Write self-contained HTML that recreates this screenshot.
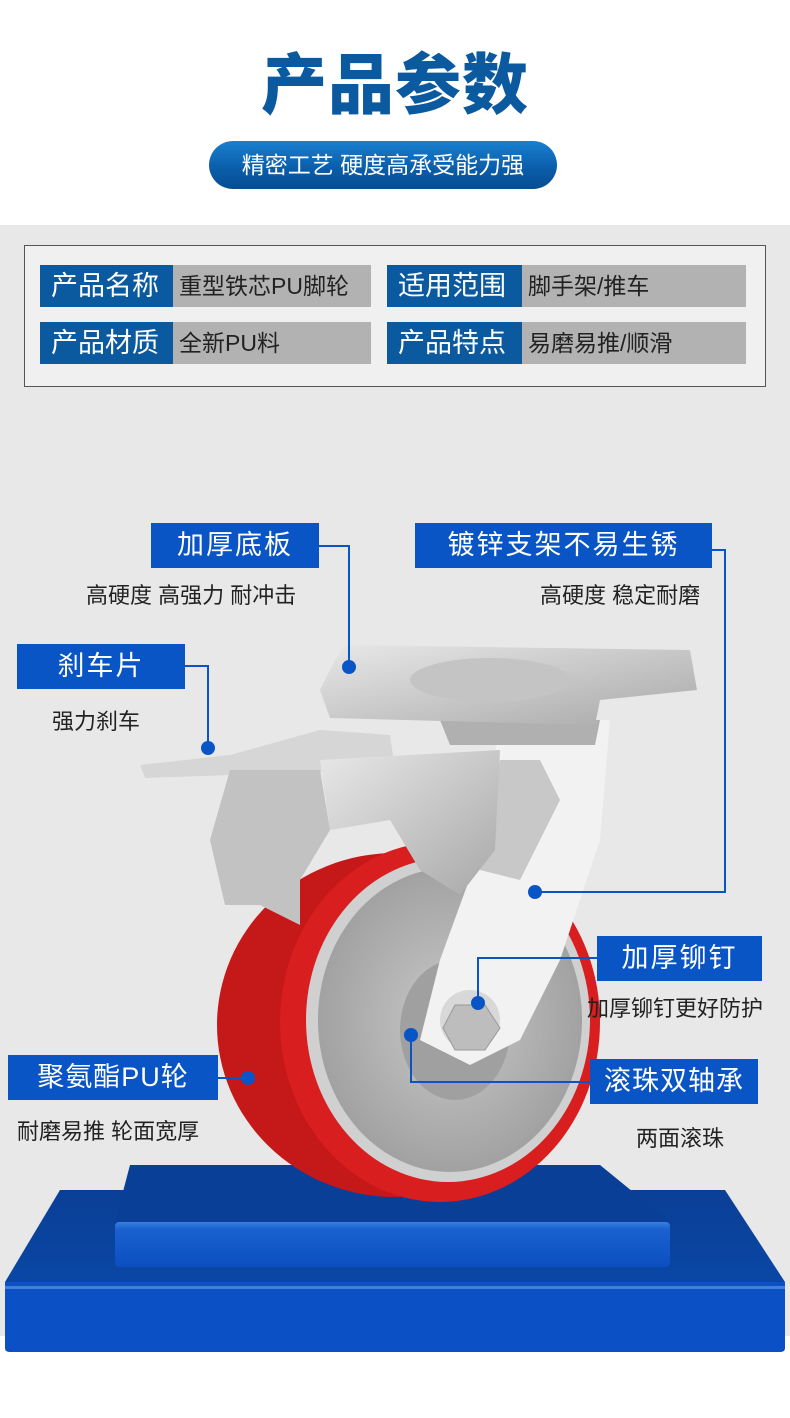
<!DOCTYPE html>
<html><head><meta charset="utf-8"><style>
*{margin:0;padding:0;box-sizing:border-box}
body{width:790px;height:1418px;position:relative;background:#fff;font-family:"Liberation Sans","Noto Sans CJK SC",sans-serif;overflow:hidden}
.a{position:absolute}
.gray{left:0;top:225px;width:790px;height:1111px;background:#e8e8e8}
.title{left:0;width:790px;top:40px;text-align:center;font-size:66px;font-weight:900;color:#0b5aa0;letter-spacing:1px;line-height:90px}
.pill{left:209px;top:141px;width:348px;height:48px;border-radius:24px;background:linear-gradient(#1a7fd0,#0a5ca8 60%,#064d92);color:#fff;font-size:23px;text-align:center;line-height:48px}
.box{left:24px;top:245px;width:742px;height:142px;border:1px solid #555;background:#f0f0f0}
.lab{background:#0b5aa0;color:#fff;font-size:27px;line-height:42px;height:42px;padding-left:11px}
.val{background:#b2b2b2;color:#222;font-size:23px;line-height:42px;height:42px;padding-left:6px}
.cb{background:#0a55c5;color:#fff;font-size:27px;text-align:center;height:45px;line-height:45px;letter-spacing:2px}
.sub{font-size:22px;color:#222;white-space:nowrap}
</style></head><body>
<div class="a gray"></div>
<div class="a title">产品参数</div>
<div class="a pill">精密工艺 硬度高承受能力强</div>
<div class="a box"></div>
<div class="a lab" style="left:40px;top:265px;width:133px">产品名称</div>
<div class="a val" style="left:173px;top:265px;width:198px">重型铁芯PU脚轮</div>
<div class="a lab" style="left:387px;top:265px;width:135px">适用范围</div>
<div class="a val" style="left:522px;top:265px;width:224px">脚手架/推车</div>
<div class="a lab" style="left:40px;top:322px;width:133px">产品材质</div>
<div class="a val" style="left:173px;top:322px;width:198px">全新PU料</div>
<div class="a lab" style="left:387px;top:322px;width:135px">产品特点</div>
<div class="a val" style="left:522px;top:322px;width:224px">易磨易推/顺滑</div>

<svg class="a" style="left:0;top:0" width="790" height="1418">
<defs>
<linearGradient id="pl" x1="0" y1="0" x2="0" y2="1"><stop offset="0" stop-color="#0a3f96"/><stop offset="1" stop-color="#0b4cb0"/></linearGradient>
<linearGradient id="pf" x1="0" y1="0" x2="0" y2="1"><stop offset="0" stop-color="#3a80e0"/><stop offset=".15" stop-color="#1a62cf"/><stop offset="1" stop-color="#0b4ec0"/></linearGradient>
<radialGradient id="hub" cx=".5" cy=".5" r=".6"><stop offset="0" stop-color="#c8c8c8"/><stop offset="1" stop-color="#9a9a9a"/></radialGradient>
<linearGradient id="met" x1="0" y1="0" x2="1" y2="1"><stop offset="0" stop-color="#e8e8e8"/><stop offset=".5" stop-color="#c8c8c8"/><stop offset="1" stop-color="#a8a8a8"/></linearGradient>
</defs>
<path d="M60 1190 L725 1190 L785 1282 L785 1348 Q785 1352 780 1352 L10 1352 Q5 1352 5 1348 L5 1282 Z" fill="url(#pl)"/>
<path d="M5 1282 L785 1282 L785 1345 Q785 1352 778 1352 L12 1352 Q5 1352 5 1345 Z" fill="#0b50c4"/>
<rect x="5" y="1286" width="780" height="3" fill="#6a9eea" opacity=".6"/>
<path d="M130 1165 L600 1165 L670 1222 L670 1266 L115 1266 L115 1222 Z" fill="#0a3f98"/>
<rect x="115" y="1222" width="555" height="45" rx="4" fill="url(#pf)"/>
<ellipse cx="395" cy="1025" rx="178" ry="172" fill="#c51818"/>
<ellipse cx="440" cy="1022" rx="160" ry="180" fill="#d81e1e"/>
<ellipse cx="448" cy="1020" rx="142" ry="162" fill="#d0d0d0"/>
<ellipse cx="450" cy="1020" rx="132" ry="152" fill="url(#hub)"/>
<ellipse cx="455" cy="1030" rx="55" ry="70" fill="#a0a0a0"/>
<path d="M500 720 L610 720 L600 840 L560 960 L520 1040 L470 1065 L420 1040 L440 960 L480 850 Z" fill="#f2f2f2"/>
<path d="M500 760 L540 760 L560 800 L520 880 L480 870 Z" fill="#c8c8c8"/>
<circle cx="470" cy="1020" r="30" fill="#d8d8d8"/>
<polygon points="455,1005 485,1005 500,1028 485,1050 455,1050 443,1028" fill="#bdbdbd" stroke="#999"/>
<path d="M440 720 L600 720 L595 745 L450 745 Z" fill="#b0b0b0"/>
<path d="M345 645 L690 650 L697 690 L600 700 L595 725 L330 718 L320 690 L335 660 Z" fill="url(#met)"/>
<ellipse cx="490" cy="680" rx="80" ry="22" fill="#c4c4c4"/>
<path d="M140 765 L230 755 L320 730 L390 735 L395 770 L230 775 L145 778 Z" fill="#d6d6d6"/>
<path d="M230 770 L320 770 L330 830 L300 880 L300 925 L260 905 L225 905 L210 840 Z" fill="#c2c2c2"/>
<path d="M320 760 L500 750 L495 850 L460 895 L420 870 L390 820 L330 830 Z" fill="url(#met)"/>
</svg>

<svg class="a" style="left:0;top:0" width="790" height="1418" fill="none" stroke="#0a55c5" stroke-width="2">
<polyline points="319,546 349,546 349,667"/>
<polyline points="712,550 725,550 725,892 535,892"/>
<polyline points="185,666 208,666 208,748"/>
<polyline points="597,958 478,958 478,1003"/>
<polyline points="218,1078 248,1078"/>
<polyline points="590,1082 411,1082 411,1035"/>
<g fill="#0a55c5" stroke="none">
<circle cx="349" cy="667" r="7"/><circle cx="535" cy="892" r="7"/><circle cx="208" cy="748" r="7"/>
<circle cx="478" cy="1003" r="7"/><circle cx="248" cy="1078" r="7"/><circle cx="411" cy="1035" r="7"/>
</g>
</svg>
<div class="a cb" style="left:151px;top:523px;width:168px">加厚底板</div>
<div class="a sub" style="left:86px;top:578px">高硬度 高强力 耐冲击</div>
<div class="a cb" style="left:415px;top:523px;width:297px">镀锌支架不易生锈</div>
<div class="a sub" style="left:540px;top:578px">高硬度 稳定耐磨</div>
<div class="a cb" style="left:17px;top:644px;width:168px">刹车片</div>
<div class="a sub" style="left:52px;top:704px">强力刹车</div>
<div class="a cb" style="left:597px;top:936px;width:165px">加厚铆钉</div>
<div class="a sub" style="left:587px;top:991px">加厚铆钉更好防护</div>
<div class="a cb" style="left:8px;top:1055px;width:210px;letter-spacing:1px">聚氨酯PU轮</div>
<div class="a sub" style="left:17px;top:1114px">耐磨易推 轮面宽厚</div>
<div class="a cb" style="left:590px;top:1059px;width:168px;letter-spacing:1px">滚珠双轴承</div>
<div class="a sub" style="left:636px;top:1121px">两面滚珠</div>
</body></html>
